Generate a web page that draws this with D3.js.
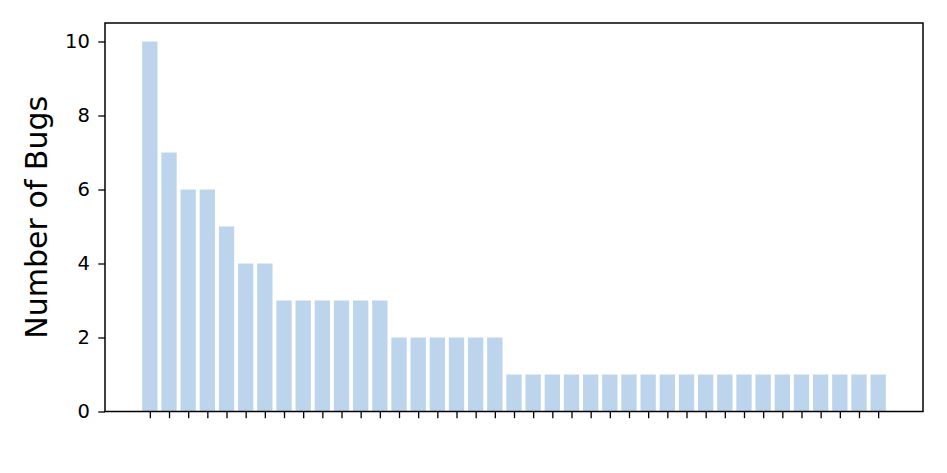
<!DOCTYPE html>
<html>
<head>
<meta charset="utf-8">
<script src="https://cdn.jsdelivr.net/npm/d3@7"></script>
<style>
  body { margin: 0; background: #fff; }
  svg { display: block; }
</style>
</head>
<body>
<svg id="chart"></svg>
<script>
// bug counts, sorted high to low (39 bars, no x labels)
var bugCounts = [10, 7, 6, 6, 5, 4, 4,
  3, 3, 3, 3, 3, 3,
  2, 2, 2, 2, 2, 2,
  1, 1, 1, 1, 1, 1, 1, 1, 1, 1, 1, 1, 1, 1, 1, 1, 1, 1, 1, 1];
var categories = bugCounts.map(function(d, i) { return i; });
var yTicks = [0, 2, 4, 6, 8, 10];

var width = 947, height = 473;
var plotLeft = 105, plotRight = 923, plotTop = 23, plotBottom = 411.5;
var fontFam = "'DejaVu Sans', sans-serif";

var svg = d3.select("#chart")
  .attr("width", width)
  .attr("height", height);

// matplotlib-like margins: bars span i-0.4..i+0.4, plus 5% padding
var n = categories.length;
var pad = (n - 1 + 0.8) * 0.05;
var xScale = d3.scaleLinear()
  .domain([-0.4 - pad, n - 1 + 0.4 + pad])
  .range([plotLeft, plotRight]);

var yScale = d3.scaleLinear()
  .domain([0, d3.max(bugCounts) * 1.05])
  .range([plotBottom, plotTop]);

var barW = xScale(0.8) - xScale(0);

svg.selectAll("rect.bar")
  .data(bugCounts)
  .enter()
  .append("rect")
    .attr("class", "bar")
    .attr("x", function(d, i) { return xScale(categories[i] - 0.4); })
    .attr("y", function(d) { return yScale(d); })
    .attr("width", barW)
    .attr("height", function(d) { return yScale(0) - yScale(d); })
    .attr("fill", "#bdd5ec");

// Y axis
var yAxis = d3.axisLeft(yScale)
  .tickValues(yTicks)
  .tickSize(6.7)
  .tickPadding(8.5)
  .tickFormat(d3.format("d"));

var gy = svg.append("g")
  .attr("transform", "translate(" + plotLeft + ",0)")
  .call(yAxis)
  .attr("font-family", fontFam)
  .attr("font-size", 19.5);
gy.select(".domain").remove();
gy.selectAll("line").attr("stroke", "#000").attr("stroke-width", 1.3);
gy.selectAll("text").attr("fill", "#000");

// X axis: ticks only
var xAxis = d3.axisBottom(xScale)
  .tickValues(categories)
  .tickSize(6.7)
  .tickFormat("");

var gx = svg.append("g")
  .attr("transform", "translate(0," + plotBottom + ")")
  .call(xAxis);
gx.select(".domain").remove();
gx.selectAll("line").attr("stroke", "#000").attr("stroke-width", 1.3);

// frame
svg.append("rect")
  .attr("x", plotLeft)
  .attr("y", plotTop)
  .attr("width", plotRight - plotLeft)
  .attr("height", plotBottom - plotTop)
  .attr("fill", "none")
  .attr("stroke", "#000")
  .attr("stroke-width", 1.5);

// y label
svg.append("text")
  .attr("transform", "translate(47," + ((plotTop + plotBottom) / 2) + ")rotate(-90)")
  .attr("text-anchor", "middle")
  .attr("font-family", fontFam)
  .attr("font-size", 30)
  .attr("fill", "#000")
  .text("Number of Bugs");
</script>
</body>
</html>
